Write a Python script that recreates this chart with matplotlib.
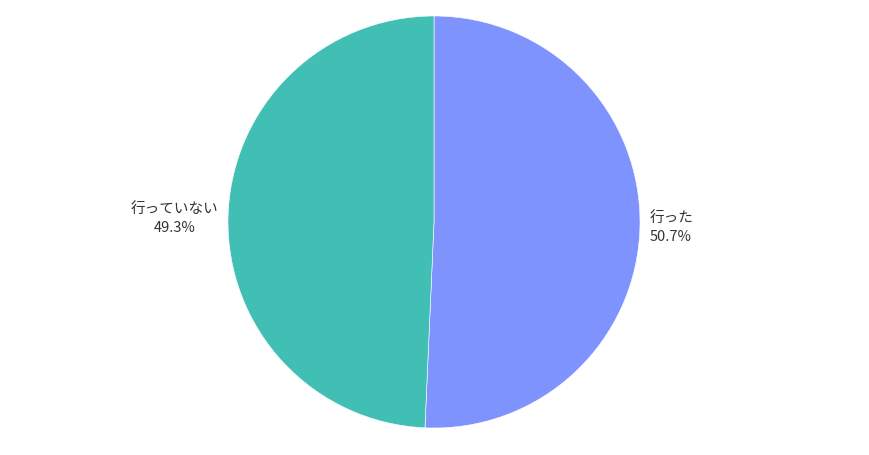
import matplotlib
matplotlib.use('Agg')
import matplotlib.pyplot as plt

plt.rcParams['font.family'] = ['Noto Sans CJK JP', 'DejaVu Sans']

labels = ['行った', '行っていない']
values = [50.7, 49.3]
colors = ['#7f93ff', '#42bfb5']

W, H = 870, 456
fig = plt.figure(figsize=(W / 100, H / 100), dpi=100)
cx, cy, r = 434, 456 - 223, 206
ax = fig.add_axes([(cx - r) / W, (cy - r) / H, 2 * r / W, 2 * r / H])

texts = [f'{l}\n{v}%' for l, v in zip(labels, values)]
ax.pie(values, labels=texts, colors=colors, startangle=90, counterclock=False,
       labeldistance=1.045, radius=1,
       wedgeprops=dict(linewidth=0.4, edgecolor='white'),
       textprops=dict(fontsize=10.5, color='#333333', multialignment='center',
                      linespacing=1.45))
ax.set_xlim(-1, 1)
ax.set_ylim(-1, 1)
ax.set_aspect('equal')
ax.axis('off')

fig.savefig('out.png', dpi=100)
